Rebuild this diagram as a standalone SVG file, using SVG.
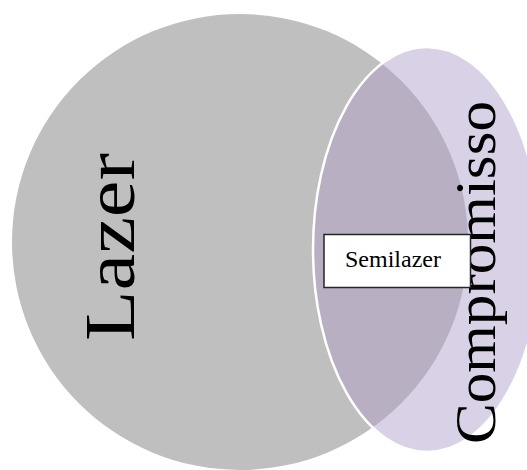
<svg xmlns="http://www.w3.org/2000/svg" width="527" height="470" viewBox="0 0 527 470">
  <style>
    .lbl { font-family: "Liberation Serif", "Times New Roman", serif; fill: #000000; }
  </style>
  <defs>
    <clipPath id="ellClip">
      <ellipse cx="427" cy="249.5" rx="114" ry="202.5"/>
    </clipPath>
  </defs>
  <rect x="0" y="0" width="527" height="470" fill="#ffffff"/>
  <g id="lazer">
    <circle cx="240" cy="242" r="228" fill="#BFBFBF"/>
    <text class="lbl" font-size="71" text-anchor="middle" textLength="188" lengthAdjust="spacingAndGlyphs" transform="translate(134,247) rotate(-90)">Lazer</text>
  </g>
  <g id="compromisso">
    <ellipse cx="427" cy="249.5" rx="114" ry="202.5" fill="#D9D2E6"/>
    <circle cx="240" cy="242" r="228" fill="#B8AFC2" clip-path="url(#ellClip)"/>
    <ellipse cx="427" cy="249.5" rx="114" ry="202.5" fill="none" stroke="#ffffff" stroke-width="2.5"/>
    <text class="lbl" font-size="56" text-anchor="middle" textLength="343" lengthAdjust="spacingAndGlyphs" transform="translate(495,272.5) rotate(-90)">Compromisso</text>
  </g>
  <g id="semilazer">
    <rect x="324" y="234.5" width="146.5" height="53" fill="#ffffff" stroke="#262626" stroke-width="1.5"/>
    <text class="lbl" x="345" y="267" font-size="23" textLength="96" lengthAdjust="spacingAndGlyphs">Semilazer</text>
  </g>
</svg>
